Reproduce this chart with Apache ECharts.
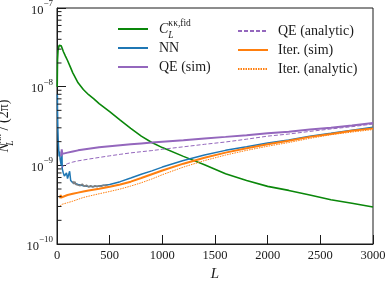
<!DOCTYPE html>
<html><head><meta charset="utf-8">
<script src="https://cdn.jsdelivr.net/npm/echarts@6/dist/echarts.min.js"></script>
<style>html,body{margin:0;padding:0;background:#fff}#c{width:390px;height:281px}</style>
</head><body><div id="c"></div>
<script>
// ---- data ----
const L_fid = [2,5,10,20,28,40,50,60,80,100,125,150,200,250,300,350,400,500,600,700,800,900,1000,1200,1400,1600,1800,2000,2200,2400,2600,2800,3000];
const fid   = [1.0e-8,2.2e-8,2.9e-8,3.35e-8,3.5e-8,3.3e-8,3.05e-8,2.8e-8,2.45e-8,2.15e-8,1.8e-8,1.5e-8,1.12e-8,9.2e-9,7.9e-9,7.0e-9,6.1e-9,4.8e-9,3.75e-9,2.95e-9,2.35e-9,1.95e-9,1.68e-9,1.3e-9,1.02e-9,7.8e-10,6.4e-10,5.4e-10,4.8e-10,4.2e-10,3.65e-10,3.3e-10,2.95e-10];

const L_nn = [2,4,5,8,12,16,20,25,30,40,47,50,60,70,80,90,100,110,120,130,150,200,250,300,350,400,500,600,700,800,900,1000,1200,1400,1600,1800,2000,2200,2400,2600,2800,3000];
const nn   = [8e-9,7.5e-9,5e-9,3e-9,2e-9,1.6e-9,1.3e-9,1.5e-9,1.2e-9,1.0e-9,1.4e-9,9e-10,8e-10,7.3e-10,7e-10,8e-10,6.8e-10,6.6e-10,8.4e-10,6.4e-10,6.0e-10,5.7e-10,5.5e-10,5.4e-10,5.4e-10,5.45e-10,5.7e-10,6.2e-10,6.9e-10,7.7e-10,8.5e-10,9.5e-10,1.15e-9,1.35e-9,1.55e-9,1.72e-9,1.92e-9,2.1e-9,2.35e-9,2.55e-9,2.8e-9,3.05e-9];

const L_nnGrey = [150,160,170,180,190,200,210,220,240,260,280,300,320,340,360,380,400,420,440,460,480];
const nnGrey   = [6.3e-10,5.8e-10,6.2e-10,5.7e-10,6.0e-10,5.6e-10,5.9e-10,5.5e-10,5.8e-10,5.4e-10,5.6e-10,5.3e-10,5.5e-10,5.3e-10,5.5e-10,5.35e-10,5.5e-10,5.4e-10,5.6e-10,5.5e-10,5.7e-10];

const L_qe = [40,45,50,70,100,150,200,300,400,500,600,700,800,900,1000,1200,1400,1600,1800,2000,2200,2400,2600,2800,3000];
const qeSim = [1.3e-9,1.6e-9,1.4e-9,1.42e-9,1.45e-9,1.5e-9,1.55e-9,1.63e-9,1.7e-9,1.75e-9,1.8e-9,1.85e-9,1.9e-9,1.95e-9,2.0e-9,2.08e-9,2.2e-9,2.3e-9,2.42e-9,2.55e-9,2.68e-9,2.85e-9,3.0e-9,3.2e-9,3.45e-9];
const qeAna = [9.3e-10,9.5e-10,9.7e-10,1.0e-9,1.05e-9,1.1e-9,1.14e-9,1.2e-9,1.26e-9,1.32e-9,1.38e-9,1.44e-9,1.49e-9,1.54e-9,1.6e-9,1.72e-9,1.85e-9,1.98e-9,2.15e-9,2.35e-9,2.5e-9,2.7e-9,2.9e-9,3.1e-9,3.35e-9];

const L_it = [30,35,40,50,100,150,200,250,300,400,500,600,700,800,900,1000,1200,1400,1600,1800,2000,2200,2400,2600,2800,3000];
const itSim = [3.8e-10,4.2e-10,3.9e-10,4.0e-10,4.2e-10,4.35e-10,4.5e-10,4.65e-10,4.8e-10,5.05e-10,5.35e-10,5.7e-10,6.2e-10,6.9e-10,7.7e-10,8.6e-10,1.05e-9,1.25e-9,1.45e-9,1.65e-9,1.85e-9,2.05e-9,2.3e-9,2.5e-9,2.75e-9,2.95e-9];
const itAna = [3.05e-10,3.1e-10,3.15e-10,3.2e-10,3.35e-10,3.5e-10,3.7e-10,3.9e-10,4.05e-10,4.35e-10,4.65e-10,5.0e-10,5.45e-10,6.0e-10,6.7e-10,7.6e-10,9.5e-10,1.15e-9,1.35e-9,1.55e-9,1.75e-9,1.95e-9,2.2e-9,2.45e-9,2.65e-9,2.85e-9];

const xTicks = [0,500,1000,1500,2000,2500,3000];
const yMajor = [1e-10,1e-9,1e-8,1e-7];
const yMinor = [2e-10,3e-10,4e-10,5e-10,6e-10,7e-10,8e-10,9e-10,2e-9,3e-9,4e-9,5e-9,6e-9,7e-9,8e-9,9e-9,2e-8,3e-8,4e-8,5e-8,6e-8,7e-8,8e-8,9e-8];
// ---------------------------------------

const zip = (a,b) => a.map((x,i)=>[x,b[i]]);
const FONT = 'Liberation Serif';
const ink = '#1a1a1a';

const chart = echarts.init(document.getElementById('c'), null, {renderer:'canvas'});
const lineBase = {type:'line', showSymbol:false, symbol:'none', animation:false};
const legendCommon = {orient:'vertical', padding:0, itemWidth:30, itemHeight:14, itemGap:5,
  itemStyle:{opacity:0, borderWidth:0}};

chart.setOption({
  animation:false,
  backgroundColor:'#fff',
  grid:{left:57, right:17, top:8, bottom:37, outerBoundsMode:'none', containLabel:false, show:true, borderColor:ink, borderWidth:1, backgroundColor:'transparent'},
  legend:[
    {...legendCommon, data:['fid'], left:117, top:18,
     textStyle:{fontFamily:FONT, fontSize:14, color:ink, padding:[0,0,0,6],
       rich:{i:{fontFamily:FONT,fontStyle:'italic',fontSize:14,color:ink,lineHeight:22},
             sub:{fontFamily:FONT,fontStyle:'italic',fontSize:9.5,color:ink,verticalAlign:'bottom',lineHeight:22,width:0.01},
             sup:{fontFamily:FONT,fontSize:9.5,color:ink,verticalAlign:'top',lineHeight:22}}},
     formatter: n => '{i|C}{sub|L}{sup|κκ,fid}'},
    {...legendCommon, data:['NN','QE (sim)'], left:117, top:41,
     textStyle:{fontFamily:FONT, fontSize:14, color:ink, padding:[0,0,0,6]}},
    {...legendCommon, data:['QE (analytic)','Iter. (sim)','Iter. (analytic)'], left:237, top:24,
     textStyle:{fontFamily:FONT, fontSize:14, color:ink, padding:[0,0,0,5]}}
  ],
  xAxis:{type:'value', min:xTicks[0], max:xTicks[xTicks.length-1], interval:500,
    axisLine:{show:true, lineStyle:{color:ink, width:1}},
    axisTick:{show:true, inside:true, length:9, lineStyle:{color:ink}},
    axisLabel:{fontFamily:FONT, fontSize:12.5, color:ink, margin:5, formatter: v => String(v)},
    splitLine:{show:false},
    name:'L', nameLocation:'middle', nameGap:17,
    nameTextStyle:{fontFamily:FONT, fontStyle:'italic', fontSize:15, color:ink}},
  yAxis:{type:'log', logBase:10, min:yMajor[0], max:yMajor[yMajor.length-1],
    axisLine:{show:true, lineStyle:{color:ink, width:1}},
    axisTick:{show:true, inside:true, length:9, lineStyle:{color:ink}},
    axisLabel:{margin:4, formatter: v => '{b|10}{e|−' + Math.round(-Math.log10(v)) + '}',
      rich:{b:{fontFamily:FONT,fontSize:12.5,color:ink,verticalAlign:'bottom',lineHeight:18},
            e:{fontFamily:FONT,fontSize:9,color:ink,verticalAlign:'top',lineHeight:18}}},
    splitLine:{show:false},
    name:'{i|N}{sub|L}{sup|κκ}{t| / (2π)}', nameLocation:'middle', nameGap:31,
    nameTextStyle:{rich:{
      i:{fontFamily:FONT,fontStyle:'italic',fontSize:14,color:ink,lineHeight:22},
      sub:{fontFamily:FONT,fontStyle:'italic',fontSize:9.5,color:ink,verticalAlign:'bottom',lineHeight:22,width:0.01},
      sup:{fontFamily:FONT,fontStyle:'italic',fontSize:9.5,color:ink,verticalAlign:'top',lineHeight:22},
      t:{fontFamily:FONT,fontSize:14,color:ink,lineHeight:22}}}},
  series:[
    {...lineBase, name:'fid', data:zip(L_fid,fid), lineStyle:{color:'#0a870a', width:1.6}, itemStyle:{color:'#0a870a'}},
    {...lineBase, name:'NN', data:zip(L_nn,nn), lineStyle:{color:'#1f77b4', width:1.5}, itemStyle:{color:'#1f77b4'}},
    {...lineBase, name:'NN', data:zip(L_nnGrey,nnGrey), lineStyle:{color:'#7f7f7f', width:1.5}, itemStyle:{color:'#7f7f7f'}},
    {...lineBase, name:'QE (sim)', data:zip(L_qe,qeSim), lineStyle:{color:'#9467bd', width:2}, itemStyle:{color:'#9467bd'}},
    {...lineBase, name:'QE (analytic)', data:zip(L_qe,qeAna), lineStyle:{color:'#9467bd', width:1, type:[4,2]}, itemStyle:{color:'#9467bd'}},
    {...lineBase, name:'Iter. (sim)', data:zip(L_it,itSim), lineStyle:{color:'#ff7f0e', width:2}, itemStyle:{color:'#ff7f0e'}},
    {...lineBase, name:'Iter. (analytic)', data:zip(L_it,itAna), lineStyle:{color:'#ff7f0e', width:1, type:[1.5,1]}, itemStyle:{color:'#ff7f0e'}},
    {type:'custom', silent:true, clip:false, z:5, data:yMinor.map(v=>[xTicks[0],v]),
      renderItem:(p,api)=>{const c=api.coord([api.value(0),api.value(1)]);
        return {type:'line', shape:{x1:c[0],y1:c[1],x2:c[0]+4.5,y2:c[1]}, style:{stroke:ink,lineWidth:1}};}}
  ]
});
</script></body></html>
